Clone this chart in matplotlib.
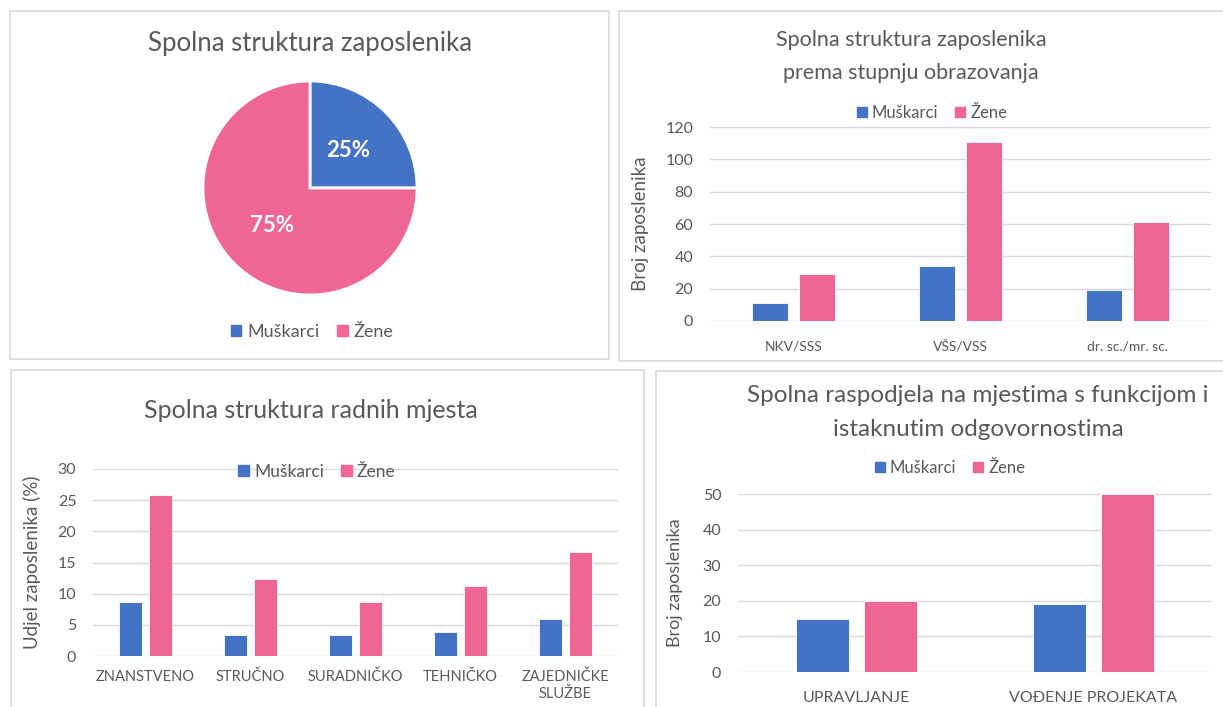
import matplotlib
matplotlib.use('Agg')
import matplotlib.pyplot as plt
import numpy as np
from matplotlib.patches import Rectangle

plt.rcParams['font.family'] = ['Lato', 'DejaVu Sans']

# podaci
spol = ['Muškarci', 'Žene']
udio_spol = [25, 75]

obrazovanje = ['NKV/SSS', 'VŠS/VSS', 'dr. sc./mr. sc.']
obr_muskarci = [11, 34, 19]
obr_zene = [29, 111, 61]

radna_mjesta = ['ZNANSTVENO', 'STRUČNO', 'SURADNIČKO', 'TEHNIČKO', 'ZAJEDNIČKE\nSLUŽBE']
rm_muskarci = [8.7, 3.3, 3.3, 3.8, 6.0]
rm_zene = [25.9, 12.4, 8.7, 11.3, 16.7]

funkcije = ['UPRAVLJANJE', 'VOĐENJE PROJEKATA']
fun_muskarci = [15, 19]
fun_zene = [20, 50]

BLUE = '#4472C4'
PINK = '#EF6596'
GRAY = '#595959'
GRID = '#D9D9D9'

W, H = 1223, 707
fig = plt.figure(figsize=(W / 100, H / 100), dpi=100)


def px_axes(x0, y0, x1, y1):
    return fig.add_axes([x0 / W, 1 - y1 / H, (x1 - x0) / W, (y1 - y0) / H])


def box(x0, y0, x1, y1):
    fig.add_artist(Rectangle((x0 / W, 1 - y1 / H), (x1 - x0) / W, (y1 - y0) / H,
                             transform=fig.transFigure, fill=False, edgecolor=GRID, lw=1.2))


def ftext(x, y, s, **kw):
    fig.text(x / W, 1 - y / H, s, ha='center', va='center', color=GRAY, **kw)


def legenda(ax, x, y, size=12):
    handles = [Rectangle((0, 0), 1, 1, color=BLUE), Rectangle((0, 0), 1, 1, color=PINK)]
    leg = ax.legend(handles, spol, loc='center', bbox_to_anchor=(x / W, 1 - y / H),
                    bbox_transform=fig.transFigure, ncol=2, frameon=False,
                    handlelength=0.6, handleheight=0.6, handletextpad=0.3,
                    columnspacing=1.0, fontsize=size)
    for t in leg.get_texts():
        t.set_color(GRAY)


def bar_axes(ax, cats, m, z, ymax, step, off, width, fs=10, xpad=14):
    x = np.arange(len(cats))
    ax.bar(x - off, m, width, color=BLUE, edgecolor='white', lw=0.6, zorder=3)
    ax.bar(x + off, z, width, color=PINK, edgecolor='white', lw=0.6, zorder=3)
    ax.set_xlim(-0.5, len(cats) - 0.5)
    ax.set_ylim(0, ymax)
    ax.set_yticks(np.arange(0, ymax + 1, step))
    ax.set_xticks(x)
    ax.set_xticklabels(cats)
    ax.grid(axis='y', color=GRID, lw=1, zorder=0)
    for s in ax.spines.values():
        s.set_visible(False)
    ax.tick_params(length=0, colors=GRAY)
    ax.tick_params(axis='x', pad=xpad, labelsize=fs)
    ax.tick_params(axis='y', pad=12, labelsize=11.5)


# okviri
box(10, 11, 609, 359)
box(619, 11, 1240, 361)
box(11, 370, 644, 720)
box(656, 371, 1240, 720)

# 1) pita
ax1 = px_axes(203, 81, 417, 295)
wedges, _, autotexts = ax1.pie(udio_spol, colors=[BLUE, PINK], startangle=90, counterclock=False,
                               autopct='%d%%', pctdistance=0.5,
                               wedgeprops=dict(edgecolor='white', linewidth=2))
for t in autotexts:
    t.set_color('white')
    t.set_fontweight('bold')
    t.set_fontsize(16)
ax1.set_xlim(-1, 1)
ax1.set_ylim(-1, 1)
ax1.set_aspect('equal')
ftext(310, 44, 'Spolna struktura zaposlenika', fontsize=18.5)
legenda(ax1, 312, 332, 13)

# 2) obrazovanje
ax2 = px_axes(710, 127, 1211, 321)
bar_axes(ax2, obrazovanje, obr_muskarci, obr_zene, 120, 20, 0.14, 0.22)
ax2.set_ylabel('Broj zaposlenika', color=GRAY, fontsize=13.5, labelpad=12)
ftext(911, 40, 'Spolna struktura zaposlenika', fontsize=15.5)
ftext(911, 73, 'prema stupnju obrazovanja', fontsize=15.5)
legenda(ax2, 932, 113, 12)

# 3) radna mjesta
ax3 = px_axes(93, 469, 618, 656)
bar_axes(ax3, radna_mjesta, rm_muskarci, rm_zene, 30, 5, 0.145, 0.22, 10.5, xpad=10)
ax3.set_ylabel('Udjel zaposlenika (%)', color=GRAY, fontsize=13.5, labelpad=12)
ftext(311, 411, 'Spolna struktura radnih mjesta', fontsize=18)
legenda(ax3, 317, 472, 12.5)

# 4) funkcije
ax4 = px_axes(738, 494, 1212, 672)
bar_axes(ax4, funkcije, fun_muskarci, fun_zene, 50, 10, 0.143, 0.224, 11.5)
ax4.set_ylabel('Broj zaposlenika', color=GRAY, fontsize=13, labelpad=14)
ftext(978, 396, 'Spolna raspodjela na mjestima s funkcijom i', fontsize=17.5)
ftext(978, 430, 'istaknutim odgovornostima', fontsize=17.5)
legenda(ax4, 950, 468, 12)

fig.savefig('out.png', dpi=100)
